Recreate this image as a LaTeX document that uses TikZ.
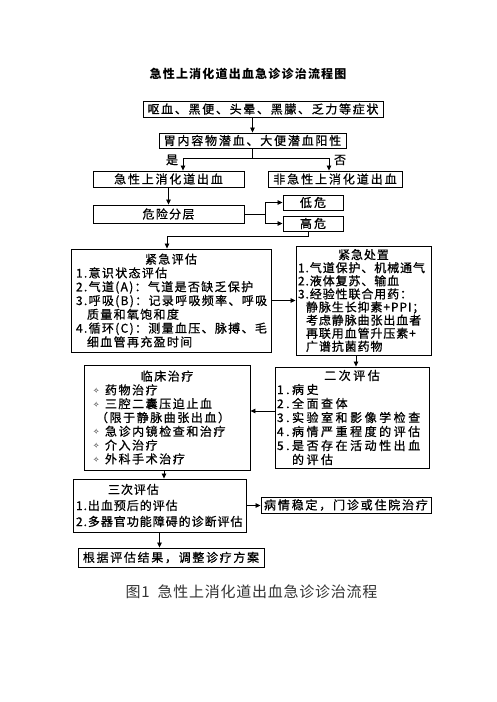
\documentclass[tikz,border=0pt]{standalone}
\usepackage{fontspec}
\setmainfont{Noto Sans CJK SC}
\newfontfamily\symfont{DejaVu Sans}
\usetikzlibrary{arrows.meta}
\newcommand{\bx}[2]{\fontsize{12}{#2}\selectfont\addfontfeatures{LetterSpace=#1,FakeBold=0.8}}
\newcommand{\bul}{\makebox[12pt][l]{\raisebox{1pt}{\symfont\fontsize{7.5}{7.5}\selectfont ✧}}}
\tikzset{
  box/.style={draw, line width=0.9pt, inner sep=0pt},
  mbox/.style={draw, line width=0.9pt, align=left, inner ysep=0pt},
  link/.style={line width=0.8pt},
  arr/.style={line width=0.8pt, -{Triangle[length=5pt,width=4.5pt]}}
}
\begin{document}
\begin{tikzpicture}[x=1pt,y=-1pt]
\fill[white] (0,0) rectangle (496,702);
\useasboundingbox (0,0) rectangle (496,702);

\node[font=\fontsize{12}{14}\selectfont\bfseries\addfontfeature{LetterSpace=10}] (title) at (248,74) {急性上消化道出血急诊诊治流程图};

\node[box, minimum width=240, minimum height=16, font=\bx{14}{14}] (b1) at (263,109) {呕血、黑便、头晕、黑朦、乏力等症状};
\node[box, minimum width=187, minimum height=15, font=\bx{15}{14}] (b2) at (252.5,140.5) {胃内容物潜血、大便潜血阳性};
\node[box, minimum width=151, minimum height=16, font=\bx{15}{14}] (b3) at (168.5,179) {急性上消化道出血};
\node[box, minimum width=134, minimum height=16, font=\bx{16}{14}] (b4) at (335,179) {非急性上消化道出血};
\node[box, minimum width=151, minimum height=18, font=\bx{11}{14}] (b5) at (168.5,214) {危险分层};
\node[box, minimum width=60, minimum height=15, font=\bx{18}{14}] (lo) at (313,202.5) {低危};
\node[box, minimum width=60, minimum height=15, font=\bx{18}{14}] (hi) at (313,223.5) {高危};

\node[font=\bx{0}{14}] (yes) at (172,160) {是};
\node[font=\bx{0}{14}] (no) at (340,160) {否};

\node[mbox, minimum height=103, text width=190, inner xsep=5, font=\bx{11}{13.8}] (ea) at (171,300.5) {%
\makebox[\linewidth][c]{紧急评估}\\
1.意识状态评估\\
2.气道(A)：气道是否缺乏保护\\
3.呼吸(B)：记录呼吸频率、呼吸\\
\hspace*{11pt}质量和氧饱和度\\
4.循环(C)：测量血压、脉搏、毛\\
\hspace*{11pt}细血管再充盈时间};

\node[mbox, minimum height=109, text width=131, inner xsep=2, font=\bx{7.5}{13.1}] (ed) at (363.5,300.5) {%
\makebox[\linewidth][c]{紧急处置}\\
1.气道保护、机械通气\\
2.液体复苏、输血\\
3.经验性联合用药：\\
\hspace*{8pt}静脉生长抑素+PPI；\\
\hspace*{8pt}考虑静脉曲张出血者\\
\hspace*{8pt}再联用血管升压素+\\
\hspace*{8pt}广谱抗菌药物};

\node[mbox, minimum height=101, text width=150, inner xsep=2, font=\bx{21}{14}] (se) at (352,417.5) {%
\makebox[\linewidth][c]{二次评估}\\
1.病史\\
2.全面查体\\
3.实验室和影像学检查\\
4.病情严重程度的评估\\
5.是否存在活动性出血\\
\hspace*{15pt}的评估};

\node[mbox, minimum height=105, text width=148, inner xsep=9, font=\bx{13}{13.8}] (ct) at (167,417.5) {%
\makebox[\linewidth][c]{临床治疗}\\
\bul 药物治疗\\
\bul 三腔二囊压迫止血\\
\hspace*{3pt}（限于静脉曲张出血）\\
\bul 急诊内镜检查和治疗\\
\bul 介入治疗\\
\bul 外科手术治疗};

\node[mbox, minimum height=53, text width=167, inner xsep=3, font=\bx{8}{16}] (te) at (159.5,505.5) {%
\hspace*{32pt}三次评估\\
1.出血预后的评估\\
2.多器官功能障碍的诊断评估};

\node[box, minimum width=170, minimum height=16, font=\bx{15}{14}] (st) at (346,505) {病情稳定，门诊或住院治疗};
\node[box, minimum width=186, minimum height=19, font=\bx{14}{14}] (fin) at (171,557.5) {根据评估结果，调整诊疗方案};

\node[font=\fontsize{15}{18}\selectfont\addfontfeature{LetterSpace=5}, text=black!80] (cap) at (251.5,592) {图1\hspace{8pt}急性上消化道出血急诊诊治流程};

% connectors
\coordinate (sp) at (252.5,158);
\coordinate (sl) at (183,158);
\coordinate (sr) at (329,158);
\coordinate (br) at (265,214);
\coordinate (h1) at (308,236);
\coordinate (h2) at (167,236);
\coordinate (xa) at (356,0);
\coordinate (ya) at (0,411);
\coordinate (xb) at (164,0);

\draw[arr] (b1.south -| b2.north) -- (b2.north);
\draw[link] (b2.south) -- (sp);
\draw[link] (sl) -- (sr);
\draw[arr] (sl) -- (sl |- b3.north);
\draw[arr] (sr) -- (sr |- b4.north);
\draw[arr] (b3.south) -- (b5.north);
\draw[link] (b5.east) -- (br);
\draw[link] (br |- lo) -- (br |- hi);
\draw[arr] (br |- lo) -- (lo.west);
\draw[arr] (br |- hi) -- (hi.west);
\draw[arr] (hi.south -| h1) -- (h1) -- (h2) -- (h2 |- ea.north);
\draw[arr] (ea.east) -- (ea.east -| ed.west);
\draw[arr] (ed.south -| xa) -- (se.north -| xa);
\draw[arr] (se.west |- ya) -- (ct.east |- ya);
\draw[arr] (ct.south -| xb) -- (te.north -| xb);
\draw[arr] (te.east) -- (te.east -| st.west);
\draw[arr] (te.south) -- (te.south |- fin.north);
\end{tikzpicture}
\end{document}
